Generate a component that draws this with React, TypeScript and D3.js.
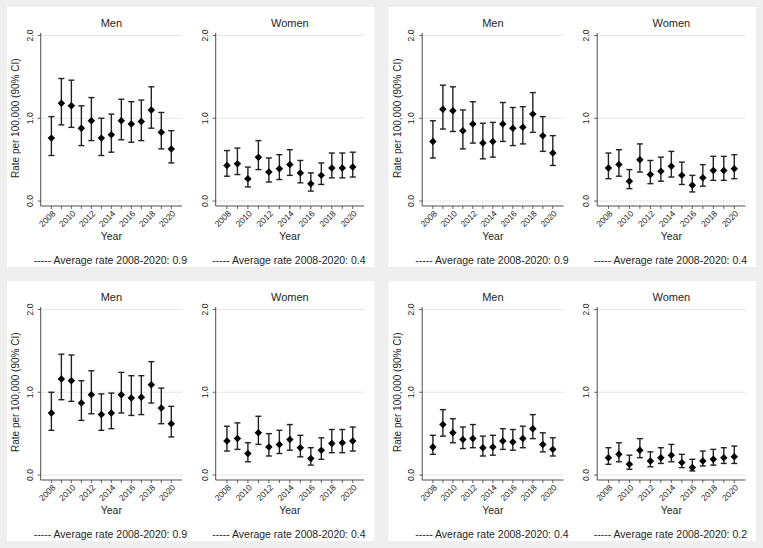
import React from "react";
import * as d3 from "d3";

// ---------- DATA ----------
const years = [2008, 2009, 2010, 2011, 2012, 2013, 2014, 2015, 2016, 2017, 2018, 2019, 2020];
const yTicks = [0, 1, 2];
const xLabelYears = [2008, 2010, 2012, 2014, 2016, 2018, 2020];
const panelTitles = ["Men", "Women"];
const yAxisTitle = "Rate per 100,000 (90% CI)";
const xAxisTitle = "Year";

// Top-left
const tlMenEst = [0.76, 1.18, 1.15, 0.88, 0.97, 0.76, 0.80, 0.97, 0.93, 0.96, 1.10, 0.83, 0.63];
const tlMenLo = [0.55, 0.92, 0.89, 0.67, 0.73, 0.55, 0.59, 0.74, 0.71, 0.73, 0.88, 0.63, 0.46];
const tlMenHi = [1.02, 1.48, 1.46, 1.15, 1.25, 1.00, 1.05, 1.23, 1.20, 1.22, 1.38, 1.07, 0.85];
const tlWomenEst = [0.43, 0.45, 0.27, 0.53, 0.35, 0.39, 0.44, 0.34, 0.21, 0.31, 0.40, 0.40, 0.41];
const tlWomenLo = [0.30, 0.32, 0.17, 0.38, 0.23, 0.26, 0.31, 0.22, 0.12, 0.20, 0.28, 0.28, 0.29];
const tlWomenHi = [0.61, 0.64, 0.41, 0.73, 0.52, 0.56, 0.62, 0.49, 0.34, 0.46, 0.58, 0.58, 0.59];

// Top-right
const trMenEst = [0.72, 1.11, 1.09, 0.85, 0.93, 0.70, 0.72, 0.93, 0.88, 0.89, 1.05, 0.79, 0.58];
const trMenLo = [0.52, 0.87, 0.84, 0.63, 0.70, 0.51, 0.53, 0.72, 0.67, 0.69, 0.83, 0.60, 0.43];
const trMenHi = [0.97, 1.40, 1.38, 1.10, 1.20, 0.94, 0.95, 1.19, 1.13, 1.14, 1.31, 1.02, 0.79];
const trWomenEst = [0.40, 0.44, 0.24, 0.50, 0.32, 0.36, 0.42, 0.31, 0.19, 0.28, 0.37, 0.37, 0.39];
const trWomenLo = [0.27, 0.30, 0.15, 0.35, 0.21, 0.24, 0.29, 0.20, 0.11, 0.18, 0.25, 0.25, 0.27];
const trWomenHi = [0.58, 0.62, 0.38, 0.69, 0.49, 0.53, 0.60, 0.47, 0.31, 0.44, 0.54, 0.54, 0.56];

// Bottom-left
const blMenEst = [0.75, 1.16, 1.14, 0.87, 0.97, 0.73, 0.75, 0.97, 0.93, 0.94, 1.09, 0.81, 0.62];
const blMenLo = [0.54, 0.91, 0.89, 0.66, 0.74, 0.54, 0.56, 0.75, 0.72, 0.73, 0.87, 0.62, 0.46];
const blMenHi = [1.00, 1.46, 1.45, 1.14, 1.26, 0.98, 0.99, 1.24, 1.20, 1.20, 1.37, 1.05, 0.83];
const blWomenEst = [0.41, 0.44, 0.26, 0.51, 0.34, 0.37, 0.43, 0.33, 0.20, 0.30, 0.38, 0.39, 0.41];
const blWomenLo = [0.29, 0.31, 0.16, 0.37, 0.23, 0.26, 0.30, 0.22, 0.12, 0.19, 0.27, 0.27, 0.29];
const blWomenHi = [0.59, 0.63, 0.39, 0.71, 0.50, 0.54, 0.61, 0.48, 0.33, 0.45, 0.55, 0.55, 0.58];

// Bottom-right
const brMenEst = [0.34, 0.61, 0.51, 0.43, 0.44, 0.33, 0.34, 0.41, 0.40, 0.44, 0.56, 0.37, 0.31];
const brMenLo = [0.25, 0.47, 0.39, 0.32, 0.33, 0.23, 0.24, 0.31, 0.30, 0.33, 0.44, 0.28, 0.23];
const brMenHi = [0.48, 0.79, 0.68, 0.58, 0.61, 0.47, 0.48, 0.56, 0.55, 0.59, 0.73, 0.51, 0.45];
const brWomenEst = [0.21, 0.25, 0.13, 0.30, 0.17, 0.21, 0.24, 0.15, 0.09, 0.17, 0.19, 0.21, 0.22];
const brWomenLo = [0.13, 0.16, 0.07, 0.21, 0.10, 0.14, 0.16, 0.09, 0.05, 0.11, 0.12, 0.14, 0.14];
const brWomenHi = [0.33, 0.39, 0.24, 0.44, 0.28, 0.33, 0.37, 0.25, 0.19, 0.29, 0.31, 0.33, 0.35];

const averages = [
  ["0.9", "0.4"],
  ["0.9", "0.4"],
  ["0.9", "0.4"],
  ["0.4", "0.2"],
];

const quadrants = [
  { men: [tlMenEst, tlMenLo, tlMenHi], women: [tlWomenEst, tlWomenLo, tlWomenHi] },
  { men: [trMenEst, trMenLo, trMenHi], women: [trWomenEst, trWomenLo, trWomenHi] },
  { men: [blMenEst, blMenLo, blMenHi], women: [blWomenEst, blWomenLo, blWomenHi] },
  { men: [brMenEst, brMenLo, brMenHi], women: [brWomenEst, brWomenLo, brWomenHi] },
];

// ---------- LAYOUT ----------
const W = 763;
const H = 548;
const BOX_W = 367.5;
const BOX_H = 260;
const boxX = [7, 388.5];
const boxY = [7, 281];
const FONT = "Arimo, 'Liberation Sans', Arial, Helvetica, sans-serif";
const TEXT = "#1e1e1e";
const AXIS = "#3a3a3a";
const GRID = "#e6e6e6";

function Panel({ x0, x1, series, title, avg, showYTitle }) {
  const [est, lo, hi] = series;
  const xs = d3.scaleLinear().domain([2006.93, 2021.07]).range([x0, x1]);
  const ys = d3.scaleLinear().domain([-0.06, 2.03]).range([199, 26]);
  const axisY = ys(-0.06);
  const cx = (x0 + x1) / 2;
  const diamond = d3.symbol().type(d3.symbolSquare).size(28)();
  return (
    <g>
      <text x={cx} y={19.5} textAnchor="middle" fontSize={11} fill={TEXT} fontFamily={FONT}>
        {title}
      </text>
      {yTicks.map((t) => (
        <g key={t}>
          <line x1={x0} x2={x1} y1={ys(t)} y2={ys(t)} stroke={GRID} strokeWidth={1} />
          <line x1={x0 - 3} x2={x0} y1={ys(t)} y2={ys(t)} stroke={AXIS} strokeWidth={0.8} />
          <text
            transform={`translate(${x0 - 8},${ys(t)}) rotate(-90)`}
            textAnchor="middle"
            fontSize={8.5}
            fill={TEXT}
            fontFamily={FONT}
          >
            {d3.format(".1f")(t)}
          </text>
        </g>
      ))}
      <line x1={x0} x2={x0} y1={ys(2.03)} y2={axisY} stroke={AXIS} strokeWidth={0.9} />
      <line x1={x0} x2={x1} y1={axisY} y2={axisY} stroke={AXIS} strokeWidth={0.9} />
      {years.map((yr) => (
        <line key={yr} x1={xs(yr)} x2={xs(yr)} y1={axisY} y2={axisY + 3} stroke={AXIS} strokeWidth={0.8} />
      ))}
      {xLabelYears.map((yr) => (
        <text
          key={yr}
          transform={`translate(${xs(yr) + 2.5},${axisY + 6}) rotate(-45)`}
          textAnchor="end"
          dy="0.35em"
          fontSize={8.5}
          fill={TEXT}
          fontFamily={FONT}
        >
          {yr}
        </text>
      ))}
      <text x={cx} y={233} textAnchor="middle" fontSize={10.5} fill={TEXT} fontFamily={FONT}>
        {xAxisTitle}
      </text>
      {showYTitle && (
        <text
          transform={`translate(${12},${ys(1)}) rotate(-90)`}
          textAnchor="middle"
          fontSize={10}
          fill={TEXT}
          fontFamily={FONT}
        >
          {yAxisTitle}
        </text>
      )}
      {years.map((yr, i) => (
        <g key={yr}>
          <line x1={xs(yr)} x2={xs(yr)} y1={ys(lo[i])} y2={ys(hi[i])} stroke="#222" strokeWidth={1.4} />
          <line x1={xs(yr) - 3} x2={xs(yr) + 3} y1={ys(lo[i])} y2={ys(lo[i])} stroke="#222" strokeWidth={1.4} />
          <line x1={xs(yr) - 3} x2={xs(yr) + 3} y1={ys(hi[i])} y2={ys(hi[i])} stroke="#222" strokeWidth={1.4} />
          <path d={diamond} transform={`translate(${xs(yr)},${ys(est[i])}) rotate(45)`} fill="#000" />
        </g>
      ))}
      <text x={cx - 1} y={257} textAnchor="middle" fontSize={10.5} fill={TEXT} fontFamily={FONT}>
        {`----- Average rate 2008-2020: ${avg}`}
      </text>
    </g>
  );
}

export default function App() {
  return (
    <svg
      width={W}
      height={H}
      style={{ position: "absolute", left: 0, top: 0, display: "block" }}
    >
      <rect x={0} y={0} width={W} height={H} fill="#efefef" />
      {quadrants.map((q, qi) => {
        const bx = boxX[qi % 2];
        const by = boxY[Math.floor(qi / 2)];
        return (
          <g key={qi} transform={`translate(${bx},${by})`}>
            <rect x={0} y={0} width={BOX_W} height={BOX_H} fill="#ffffff" />
            <Panel x0={33.7} x1={175} series={q.men} title={panelTitles[0]} avg={averages[qi][0]} showYTitle />
            <Panel x0={208.7} x1={357} series={q.women} title={panelTitles[1]} avg={averages[qi][1]} showYTitle={false} />
          </g>
        );
      })}
    </svg>
  );
}
